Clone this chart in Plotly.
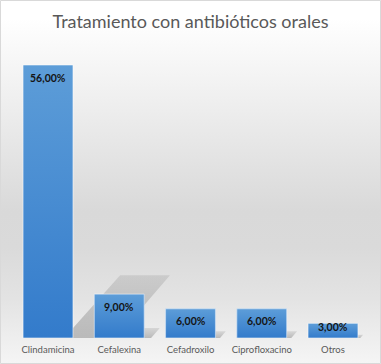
import plotly.graph_objects as go

# ---- data ----
categories = ["Clindamicina", "Cefalexina", "Cefadroxilo", "Ciprofloxacino", "Otros"]
values = [56, 9, 6, 6, 3]
labels = ["56,00%", "9,00%", "6,00%", "6,00%", "3,00%"]

# ---- layout constants (pixels) ----
FONT = "Lato, 'Open Sans', sans-serif"
W, H = 381, 364
PLOT_L, PLOT_R, PLOT_T, PLOT_B = 12.4, 368.6, 45.5, 338.0
YMAX = 60
BAR_W = 0.7
px_per_y = (PLOT_B - PLOT_T) / YMAX
px_per_x = (PLOT_R - PLOT_L) / len(categories)
xdom = [PLOT_L / W, PLOT_R / W]
ydom = [(H - PLOT_B) / H, (H - PLOT_T) / H]
xs = list(range(len(categories)))
xr = [-0.5, len(categories) - 0.5]

fig = go.Figure()

# background gradient (full paper)
bg_stops = [[0, "#f5f5f5"], [0.07, "#eeeeee"], [0.18, "#e3e3e3"], [0.32, "#dadada"],
            [0.42, "#d9d9d9"], [0.67, "#ebebeb"], [0.84, "#f7f7f7"], [0.95, "#ffffff"], [1, "#ffffff"]]
fig.add_trace(go.Scatter(
    x=[0, 1, 1, 0, 0], y=[0, 0, 1, 1, 0], mode="lines", line=dict(width=0),
    fill="toself", fillgradient=dict(type="vertical", colorscale=bg_stops, start=0, stop=1),
    xaxis="x", yaxis="y", hoverinfo="skip", showlegend=False))

# perspective shadows (derived from bar values)
ref_px = 273.0
for i, v in enumerate(values):
    k = v * px_per_y / ref_px
    bl = i - BAR_W / 2 + 41 * k / px_per_x
    br = i + BAR_W / 2 + 43 * k / px_per_x
    tl = i - BAR_W / 2 + 97 * k / px_per_x
    tr = i + BAR_W / 2 + 97 * k / px_per_x
    top = 0.23 * v
    fig.add_trace(go.Scatter(
        x=[bl, br, tr, tl, bl], y=[0, 0, top, top, 0], mode="lines", line=dict(width=0),
        fill="toself",
        fillgradient=dict(type="vertical", start=0, stop=top,
                          colorscale=[[0, "rgba(0,0,0,0.22)"], [1, "rgba(0,0,0,0.09)"]]),
        xaxis="x2", yaxis="y2", hoverinfo="skip", showlegend=False))

# bars
fig.add_trace(go.Bar(
    x=xs, y=values, width=BAR_W, marker=dict(color="#4a8bd3", line=dict(width=0)),
    xaxis="x3", yaxis="y3", hoverinfo="skip", showlegend=False))
for i, v in enumerate(values):
    fig.add_trace(go.Scatter(
        x=[i - BAR_W / 2, i + BAR_W / 2, i + BAR_W / 2, i - BAR_W / 2, i - BAR_W / 2],
        y=[0, 0, v, v, 0], mode="lines",
        line=dict(color="rgba(255,255,255,0.55)", width=1),
        fill="toself",
        fillgradient=dict(type="vertical", start=0, stop=v,
                          colorscale=[[0, "#337bcb"], [1, "#5d9dd8"]]),
        xaxis="x3", yaxis="y3", hoverinfo="skip", showlegend=False))

# value labels
annotations = []
for i, (v, t) in enumerate(zip(values, labels)):
    hpx = v * px_per_y
    off = min(12.7, hpx - 11.3)
    annotations.append(dict(
        x=i, y=v, xref="x3", yref="y3", text=t, showarrow=False,
        yanchor="middle", xanchor="center", yshift=-off,
        font=dict(family=FONT, size=10.5, color="#141414", weight="bold")))

hidden = dict(visible=False, fixedrange=True, showgrid=False, zeroline=False)
fig.update_layout(
    width=W, height=H,
    margin=dict(l=0, r=0, t=0, b=0),
    paper_bgcolor="white", plot_bgcolor="rgba(0,0,0,0)",
    showlegend=False,
    title=dict(text="Tratamiento con antibióticos orales", x=0.5, xanchor="center",
               y=1 - 22 / H, yanchor="middle",
               font=dict(family=FONT, size=18, color="#595959")),
    xaxis=dict(domain=[0, 1], range=[0, 1], anchor="y", **hidden),
    yaxis=dict(domain=[0, 1], range=[0, 1], anchor="x", **hidden),
    xaxis2=dict(domain=xdom, range=xr, anchor="y2", **hidden),
    yaxis2=dict(domain=ydom, range=[0, YMAX], anchor="x2", **hidden),
    xaxis3=dict(domain=xdom, range=xr, anchor="y3", fixedrange=True,
                tickmode="array", tickvals=xs, ticktext=categories,
                showgrid=False, zeroline=False, showline=False, ticks="",
                ticklabelstandoff=4, automargin=False,
                tickfont=dict(family=FONT, size=9.5, color="#595959")),
    yaxis3=dict(domain=ydom, range=[0, YMAX], anchor="x3", **hidden),
    annotations=annotations,
    shapes=[dict(type="rect", xref="paper", yref="paper",
                 x0=0.5 / W, x1=1 - 0.5 / W, y0=0.5 / H, y1=1 - 0.5 / H,
                 line=dict(color="#d9d9d9", width=1), fillcolor="rgba(0,0,0,0)")],
)

fig.write_html("out.html", config={"displayModeBar": False, "staticPlot": True},
               post_script="document.body.style.margin='0';")
